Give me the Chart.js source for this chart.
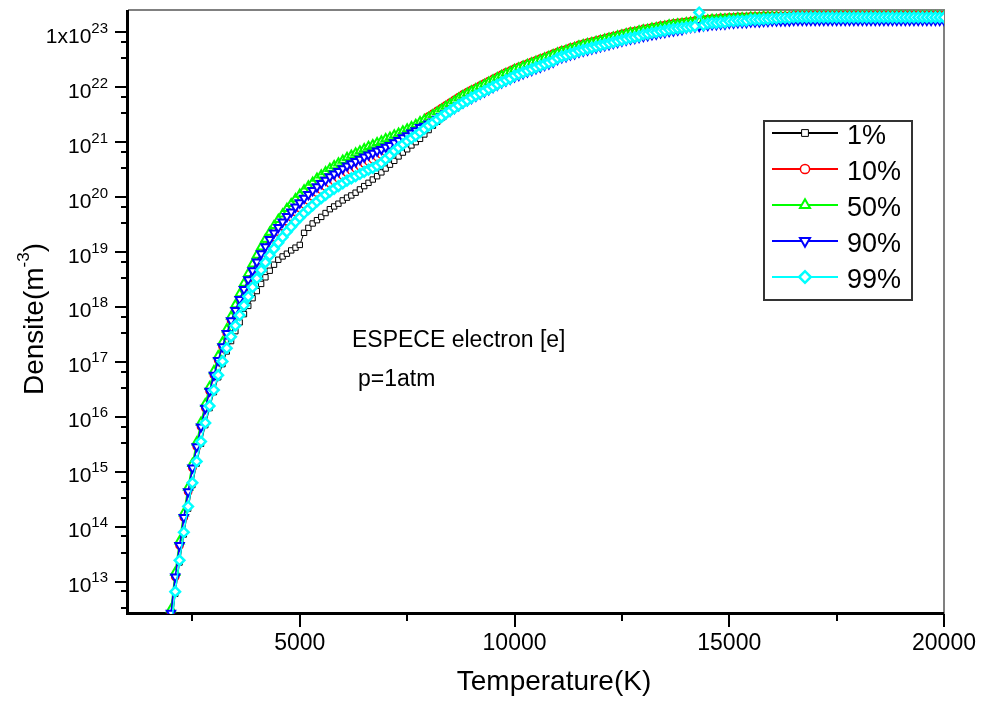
<!DOCTYPE html>
<html>
<head>
<meta charset="utf-8">
<script src="https://cdn.jsdelivr.net/npm/chart.js@4.4.1/dist/chart.umd.min.js"></script>
<style>
  html, body { margin: 0; padding: 0; background: #fff; }
  #wrap { width: 987px; height: 701px; }
</style>
</head>
<body>
<div id="wrap"><canvas id="chart" width="987" height="701"></canvas></div>
<script>
// Temperature (K), one point every 100 K
const temperatures = [
  2000, 2100, 2200, 2300, 2400, 2500, 2600, 2700, 2800, 2900,
  3000, 3100, 3200, 3300, 3400, 3500, 3600, 3700, 3800, 3900,
  4000, 4100, 4200, 4300, 4400, 4500, 4600, 4700, 4800, 4900,
  5000, 5100, 5200, 5300, 5400, 5500, 5600, 5700, 5800, 5900,
  6000, 6100, 6200, 6300, 6400, 6500, 6600, 6700, 6800, 6900,
  7000, 7100, 7200, 7300, 7400, 7500, 7600, 7700, 7800, 7900,
  8000, 8100, 8200, 8300, 8400, 8500, 8600, 8700, 8800, 8900,
  9000, 9100, 9200, 9300, 9400, 9500, 9600, 9700, 9800, 9900,
  10000, 10100, 10200, 10300, 10400, 10500, 10600, 10700, 10800, 10900,
  11000, 11100, 11200, 11300, 11400, 11500, 11600, 11700, 11800, 11900,
  12000, 12100, 12200, 12300, 12400, 12500, 12600, 12700, 12800, 12900,
  13000, 13100, 13200, 13300, 13400, 13500, 13600, 13700, 13800, 13900,
  14000, 14100, 14200, 14300, 14400, 14500, 14600, 14700, 14800, 14900,
  15000, 15100, 15200, 15300, 15400, 15500, 15600, 15700, 15800, 15900,
  16000, 16100, 16200, 16300, 16400, 16500, 16600, 16700, 16800, 16900,
  17000, 17100, 17200, 17300, 17400, 17500, 17600, 17700, 17800, 17900,
  18000, 18100, 18200, 18300, 18400, 18500, 18600, 18700, 18800, 18900,
  19000, 19100, 19200, 19300, 19400, 19500, 19600, 19700, 19800, 19900,
  20000
];

// log10 of electron density (m^-3)
const dens1pct = [
  12.11, 12.78, 13.35, 13.86, 14.33, 14.76, 15.15, 15.51, 15.85, 16.16,
  16.45, 16.72, 16.96, 17.19, 17.38, 17.56, 17.72, 17.87, 18.02, 18.16,
  18.29, 18.42, 18.54, 18.66, 18.77, 18.86, 18.92, 18.97, 19.03, 19.08,
  19.13, 19.35, 19.44, 19.52, 19.58, 19.64, 19.71, 19.78, 19.83, 19.88,
  19.94, 19.99, 20.03, 20.08, 20.14, 20.20, 20.26, 20.32, 20.38, 20.45,
  20.52, 20.59, 20.66, 20.74, 20.81, 20.87, 20.94, 21.00, 21.06, 21.14,
  21.22, 21.30, 21.37, 21.44, 21.51, 21.56, 21.61, 21.66, 21.71, 21.75,
  21.80, 21.84, 21.88, 21.92, 21.96, 22.00, 22.04, 22.08, 22.12, 22.15,
  22.20, 22.23, 22.26, 22.29, 22.32, 22.35, 22.38, 22.41, 22.44, 22.47,
  22.52, 22.55, 22.57, 22.60, 22.62, 22.65, 22.67, 22.69, 22.71, 22.73,
  22.75, 22.77, 22.79, 22.81, 22.83, 22.85, 22.87, 22.89, 22.90, 22.92,
  22.95, 22.96, 22.98, 22.99, 23.01, 23.02, 23.04, 23.05, 23.06, 23.07,
  23.08, 23.09, 23.10, 23.11, 23.12, 23.15, 23.16, 23.16, 23.17, 23.17,
  23.19, 23.19, 23.20, 23.20, 23.20, 23.22, 23.22, 23.22, 23.23, 23.23,
  23.24, 23.24, 23.24, 23.24, 23.24, 23.26, 23.26, 23.26, 23.26, 23.26,
  23.26, 23.26, 23.26, 23.26, 23.26, 23.26, 23.26, 23.26, 23.26, 23.26,
  23.26, 23.26, 23.26, 23.26, 23.26, 23.26, 23.26, 23.26, 23.26, 23.26,
  23.26, 23.26, 23.26, 23.26, 23.26, 23.26, 23.26, 23.26, 23.26, 23.26,
  23.26
];
const dens10pct = [
  12.42, 13.09, 13.66, 14.17, 14.64, 15.07, 15.46, 15.82, 16.16, 16.47,
  16.76, 17.03, 17.28, 17.52, 17.75, 17.92, 18.11, 18.29, 18.45, 18.61,
  18.76, 18.90, 19.04, 19.16, 19.27, 19.37, 19.47, 19.56, 19.64, 19.73,
  19.80, 19.87, 19.94, 20.01, 20.08, 20.13, 20.19, 20.25, 20.29, 20.34,
  20.39, 20.44, 20.48, 20.52, 20.56, 20.61, 20.65, 20.69, 20.73, 20.77,
  20.82, 20.86, 20.92, 20.96, 21.02, 21.08, 21.15, 21.22, 21.31, 21.39,
  21.47, 21.52, 21.57, 21.62, 21.67, 21.72, 21.77, 21.82, 21.87, 21.91,
  21.95, 21.99, 22.03, 22.07, 22.11, 22.15, 22.19, 22.23, 22.27, 22.30,
  22.34, 22.37, 22.40, 22.43, 22.46, 22.49, 22.52, 22.55, 22.58, 22.61,
  22.64, 22.67, 22.69, 22.72, 22.74, 22.77, 22.79, 22.81, 22.83, 22.85,
  22.87, 22.89, 22.91, 22.93, 22.95, 22.97, 22.99, 23.01, 23.02, 23.04,
  23.06, 23.07, 23.09, 23.10, 23.12, 23.13, 23.15, 23.16, 23.17, 23.18,
  23.19, 23.20, 23.21, 23.22, 23.23, 23.24, 23.25, 23.25, 23.26, 23.26,
  23.27, 23.27, 23.28, 23.28, 23.28, 23.29, 23.29, 23.29, 23.30, 23.30,
  23.30, 23.30, 23.30, 23.30, 23.30, 23.31, 23.31, 23.31, 23.31, 23.31,
  23.31, 23.31, 23.31, 23.31, 23.31, 23.31, 23.31, 23.31, 23.31, 23.31,
  23.31, 23.31, 23.31, 23.31, 23.31, 23.31, 23.31, 23.31, 23.31, 23.31,
  23.31, 23.31, 23.31, 23.31, 23.31, 23.31, 23.31, 23.31, 23.31, 23.31,
  23.31
];
const dens50pct = [
  12.50, 13.17, 13.74, 14.25, 14.72, 15.15, 15.54, 15.90, 16.24, 16.55,
  16.84, 17.11, 17.36, 17.60, 17.83, 18.04, 18.24, 18.43, 18.61, 18.78,
  18.94, 19.09, 19.23, 19.36, 19.48, 19.59, 19.69, 19.79, 19.88, 19.97,
  20.05, 20.13, 20.20, 20.27, 20.34, 20.40, 20.46, 20.52, 20.57, 20.62,
  20.67, 20.72, 20.76, 20.80, 20.84, 20.88, 20.92, 20.95, 20.99, 21.02,
  21.06, 21.09, 21.13, 21.16, 21.20, 21.24, 21.28, 21.32, 21.37, 21.41,
  21.45, 21.50, 21.55, 21.60, 21.65, 21.70, 21.75, 21.80, 21.85, 21.89,
  21.93, 21.97, 22.01, 22.05, 22.09, 22.13, 22.17, 22.21, 22.25, 22.28,
  22.32, 22.35, 22.38, 22.41, 22.44, 22.47, 22.50, 22.53, 22.56, 22.59,
  22.62, 22.65, 22.67, 22.70, 22.72, 22.75, 22.77, 22.79, 22.81, 22.83,
  22.85, 22.87, 22.89, 22.91, 22.93, 22.95, 22.97, 22.99, 23.00, 23.02,
  23.04, 23.05, 23.07, 23.08, 23.10, 23.11, 23.13, 23.14, 23.15, 23.16,
  23.17, 23.18, 23.19, 23.20, 23.21, 23.22, 23.23, 23.23, 23.24, 23.24,
  23.25, 23.25, 23.26, 23.26, 23.26, 23.27, 23.27, 23.27, 23.28, 23.28,
  23.28, 23.28, 23.28, 23.28, 23.28, 23.29, 23.29, 23.29, 23.29, 23.29,
  23.29, 23.29, 23.29, 23.29, 23.29, 23.29, 23.29, 23.29, 23.29, 23.29,
  23.29, 23.29, 23.29, 23.29, 23.29, 23.29, 23.29, 23.29, 23.29, 23.29,
  23.29, 23.29, 23.29, 23.29, 23.29, 23.29, 23.29, 23.29, 23.29, 23.29,
  23.29
];
const dens90pct = [
  12.43, 13.09, 13.66, 14.17, 14.64, 15.07, 15.46, 15.82, 16.16, 16.47,
  16.76, 17.03, 17.28, 17.52, 17.75, 17.94, 18.14, 18.32, 18.50, 18.66,
  18.82, 18.97, 19.10, 19.23, 19.35, 19.45, 19.55, 19.65, 19.73, 19.82,
  19.90, 19.98, 20.05, 20.12, 20.19, 20.25, 20.31, 20.37, 20.42, 20.47,
  20.52, 20.57, 20.61, 20.65, 20.69, 20.73, 20.77, 20.80, 20.84, 20.87,
  20.91, 20.94, 20.99, 21.03, 21.08, 21.12, 21.17, 21.21, 21.27, 21.29,
  21.33, 21.37, 21.42, 21.47, 21.52, 21.57, 21.62, 21.67, 21.72, 21.76,
  21.80, 21.84, 21.88, 21.92, 21.96, 22.00, 22.04, 22.08, 22.12, 22.15,
  22.19, 22.22, 22.25, 22.28, 22.31, 22.34, 22.37, 22.40, 22.43, 22.46,
  22.51, 22.54, 22.56, 22.59, 22.61, 22.64, 22.66, 22.68, 22.70, 22.72,
  22.74, 22.76, 22.78, 22.80, 22.82, 22.84, 22.86, 22.88, 22.89, 22.91,
  22.93, 22.94, 22.96, 22.97, 22.99, 23.00, 23.02, 23.03, 23.04, 23.05,
  23.08, 23.09, 23.10, 23.11, 23.12, 23.13, 23.14, 23.14, 23.15, 23.15,
  23.17, 23.17, 23.18, 23.18, 23.18, 23.19, 23.19, 23.19, 23.20, 23.20,
  23.21, 23.21, 23.21, 23.21, 23.21, 23.22, 23.22, 23.22, 23.22, 23.22,
  23.22, 23.22, 23.22, 23.22, 23.22, 23.22, 23.22, 23.22, 23.22, 23.22,
  23.22, 23.22, 23.22, 23.22, 23.22, 23.22, 23.22, 23.22, 23.22, 23.22,
  23.22, 23.22, 23.22, 23.22, 23.22, 23.22, 23.22, 23.22, 23.22, 23.22,
  23.22
];
const dens99pct = [
  12.15, 12.82, 13.39, 13.90, 14.37, 14.80, 15.19, 15.55, 15.89, 16.20,
  16.49, 16.76, 17.01, 17.25, 17.46, 17.66, 17.85, 18.03, 18.19, 18.36,
  18.52, 18.67, 18.81, 18.94, 19.06, 19.17, 19.27, 19.37, 19.46, 19.55,
  19.63, 19.71, 19.78, 19.85, 19.92, 19.98, 20.04, 20.10, 20.15, 20.20,
  20.25, 20.30, 20.34, 20.38, 20.42, 20.46, 20.50, 20.53, 20.57, 20.62,
  20.69, 20.76, 20.84, 20.90, 20.96, 21.02, 21.07, 21.12, 21.18, 21.24,
  21.30, 21.35, 21.41, 21.46, 21.52, 21.57, 21.62, 21.67, 21.72, 21.76,
  21.81, 21.85, 21.89, 21.93, 21.97, 22.01, 22.05, 22.09, 22.13, 22.16,
  22.21, 22.24, 22.27, 22.30, 22.33, 22.36, 22.39, 22.42, 22.45, 22.48,
  22.53, 22.56, 22.58, 22.61, 22.63, 22.66, 22.68, 22.70, 22.72, 22.74,
  22.76, 22.78, 22.80, 22.82, 22.84, 22.86, 22.88, 22.90, 22.91, 22.93,
  22.96, 22.97, 22.99, 23.00, 23.02, 23.03, 23.05, 23.06, 23.07, 23.08,
  23.09, 23.10, 23.11, 23.36, 23.13, 23.16, 23.17, 23.17, 23.18, 23.18,
  23.20, 23.20, 23.21, 23.21, 23.21, 23.23, 23.23, 23.23, 23.24, 23.24,
  23.25, 23.25, 23.26, 23.26, 23.26, 23.27, 23.27, 23.27, 23.27, 23.27,
  23.27, 23.27, 23.27, 23.27, 23.27, 23.27, 23.27, 23.27, 23.27, 23.27,
  23.27, 23.27, 23.27, 23.27, 23.27, 23.27, 23.27, 23.27, 23.27, 23.27,
  23.27, 23.27, 23.27, 23.27, 23.27, 23.27, 23.27, 23.27, 23.27, 23.27,
  23.27
];

const seriesLabels = ["1%", "10%", "50%", "90%", "99%"];
const seriesValues = [dens1pct, dens10pct, dens50pct, dens90pct, dens99pct];
const seriesColors = ["#000000", "#ff0000", "#00ff00", "#0000ff", "#00ffff"];

// axis ticks
const xMajorTicks = [5000, 10000, 15000, 20000];
const xMinorTicks = [2500, 7500, 12500, 17500];
const yMajorExponents = [13, 14, 15, 16, 17, 18, 19, 20, 21, 22, 23];
const yMinorFactors = [1 / 3, 2 / 3];

const FONT = '"Liberation Sans", Arial, Helvetica, sans-serif';

// marker look per series
const markerStyles = [
    { pointStyle: "rect", rotation: 0, radius: 3.8, borderWidth: 1, lineWidth: 1 },
    { pointStyle: "circle", rotation: 0, radius: 3.6, borderWidth: 1.5, lineWidth: 1.5 },
    { pointStyle: "triangle", rotation: 0, radius: 4.8, borderWidth: 2, lineWidth: 1.5 },
    { pointStyle: "triangle", rotation: 180, radius: 4.8, borderWidth: 2, lineWidth: 1.5 },
    { pointStyle: "rectRot", rotation: 0, radius: 4.8, borderWidth: 2.5, lineWidth: 1.5 },
];

const datasets = seriesLabels.map(function (label, s) {
    const m = markerStyles[s];
    return {
        label: label,
        data: temperatures.map((t, i) => ({ x: t, y: Math.pow(10, seriesValues[s][i]) })),
        // later series are painted on top (99% last)
        order: seriesLabels.length - 1 - s,
        borderColor: seriesColors[s],
        borderWidth: m.lineWidth,
        pointStyle: m.pointStyle,
        pointRotation: m.rotation,
        pointRadius: m.radius,
        pointBorderWidth: m.borderWidth,
        pointBorderColor: seriesColors[s],
        pointBackgroundColor: "#ffffff",
        tension: 0,
        fill: false,
        clip: { left: 0, top: 6, right: 0, bottom: 0 },
    };
});

function strokeLine(ctx, x1, y1, x2, y2) {
    ctx.beginPath();
    ctx.moveTo(x1, y1);
    ctx.lineTo(x2, y2);
    ctx.stroke();
}

// frame, tick marks, tick labels with exponents, titles, note and legend
const decorPlugin = {
    id: "decor",
    beforeDatasetsDraw(chart) {
        const ctx = chart.ctx;
        const a = chart.chartArea;
        const xs = chart.scales.x;
        const ys = chart.scales.y;
        ctx.save();

        // thin grey top/right border
        ctx.strokeStyle = "#808080";
        ctx.lineWidth = 2;
        ctx.beginPath();
        ctx.moveTo(a.left, a.top);
        ctx.lineTo(a.right, a.top);
        ctx.lineTo(a.right, a.bottom);
        ctx.stroke();

        // tick marks
        ctx.strokeStyle = "#000";
        ctx.lineWidth = 2;
        yMajorExponents.forEach(function (n) {
            const py = Math.round(ys.getPixelForValue(Math.pow(10, n)));
            strokeLine(ctx, a.left - 13, py, a.left, py);
            yMinorFactors.forEach(function (f) {
                const v = f * Math.pow(10, n);
                if (v < ys.min || v > ys.max) return;
                const my = Math.round(ys.getPixelForValue(v));
                strokeLine(ctx, a.left - 7, my, a.left, my);
            });
        });
        xMajorTicks.forEach(function (v) {
            const px = Math.round(xs.getPixelForValue(v));
            strokeLine(ctx, px, a.bottom, px, a.bottom + 13);
        });
        xMinorTicks.forEach(function (v) {
            const px = Math.round(xs.getPixelForValue(v));
            strokeLine(ctx, px, a.bottom, px, a.bottom + 7);
        });

        // thick black axes
        ctx.lineWidth = 3;
        strokeLine(ctx, a.left - 0.5, a.top, a.left - 0.5, a.bottom + 1);
        strokeLine(ctx, a.left - 2, a.bottom - 0.5, a.right, a.bottom - 0.5);
        ctx.restore();
    },
    afterDraw(chart) {
        const ctx = chart.ctx;
        const ys = chart.scales.y;
        ctx.save();
        ctx.fillStyle = "#000";

        // y tick labels: 10^n with raised exponent
        yMajorExponents.forEach(function (n) {
            const py = ys.getPixelForValue(Math.pow(10, n));
            const base = n === 23 ? "1x10" : "10";
            const right = 108;
            ctx.textAlign = "right";
            ctx.textBaseline = "alphabetic";
            ctx.font = "15px " + FONT;
            const expW = ctx.measureText(String(n)).width;
            ctx.fillText(String(n), right, py + 0.5);
            ctx.font = "21px " + FONT;
            ctx.fillText(base, right - expW, py + 10.5);
        });

        // y title, rotated: Densite(m^-3)
        ctx.textAlign = "left";
        ctx.font = "28px " + FONT;
        const mainTxt = "Densite(m";
        const wMain = ctx.measureText(mainTxt).width;
        const wClose = ctx.measureText(")").width;
        ctx.font = "17px " + FONT;
        const wSup = ctx.measureText("-3").width;
        const total = wMain + wSup + wClose;
        ctx.save();
        ctx.translate(43, 319 + total / 2);
        ctx.rotate(-Math.PI / 2);
        ctx.font = "28px " + FONT;
        ctx.fillText(mainTxt, 0, 0);
        ctx.fillText(")", wMain + wSup, 0);
        ctx.font = "17px " + FONT;
        ctx.fillText("-3", wMain, -14);
        ctx.restore();

        // x title
        ctx.font = "28px " + FONT;
        ctx.textAlign = "center";
        ctx.fillText("Temperature(K)", 554, 690);

        // note inside the plot
        ctx.textAlign = "left";
        ctx.font = "23px " + FONT;
        ctx.fillText("ESPECE electron [e]", 352, 347);
        ctx.fillText("p=1atm", 358, 386);

        // legend box
        ctx.strokeStyle = "#333";
        ctx.lineWidth = 2;
        ctx.strokeRect(764, 121, 148, 179);
        seriesLabels.forEach(function (label, s) {
            const cy = 133 + 36 * s;
            const m = markerStyles[s];
            ctx.strokeStyle = seriesColors[s];
            ctx.lineWidth = 1.8;
            strokeLine(ctx, 772, cy, 838, cy);
            ctx.fillStyle = "#ffffff";
            ctx.lineWidth = m.borderWidth;
            Chart.helpers.drawPoint(ctx, {
                pointStyle: m.pointStyle,
                rotation: m.rotation,
                radius: m.radius + 1,
                borderWidth: m.borderWidth,
            }, 805, cy);
            ctx.fillStyle = "#000";
            ctx.font = "27px " + FONT;
            ctx.textAlign = "left";
            ctx.fillText(label, 847, cy + 10.5);
        });
        ctx.restore();
    },
};

new Chart(document.getElementById("chart").getContext("2d"), {
    type: "line",
    data: { datasets: datasets },
    options: {
        responsive: false,
        animation: false,
        devicePixelRatio: 1,
        layout: { padding: { left: 0, top: 10, right: 43, bottom: 0 } },
        plugins: {
            legend: { display: false },
            tooltip: { enabled: false },
        },
        scales: {
            x: {
                type: "linear",
                position: "bottom",
                min: 1000,
                max: 20000,
                grid: { display: false, drawTicks: false },
                border: { display: false },
                ticks: {
                    color: "#000",
                    font: { family: FONT, size: 23 },
                    padding: 16,
                    maxRotation: 0,
                    callback: (v) => String(v),
                },
                afterBuildTicks: function (axis) {
                    axis.ticks = xMajorTicks.map((v) => ({ value: v }));
                },
                afterFit: function (axis) {
                    axis.height = 87;
                    // labels may overhang; do not let them shrink the plot
                    axis.paddingLeft = 0;
                    axis.paddingRight = 0;
                },
            },
            y: {
                type: "logarithmic",
                min: Math.pow(10, 12.413),
                max: Math.pow(10, 23.405),
                grid: { display: false, drawTicks: false },
                border: { display: false },
                ticks: { display: false },
                afterFit: function (axis) { axis.width = 128; },
            },
        },
    },
    plugins: [decorPlugin],
});
</script>
</body>
</html>
